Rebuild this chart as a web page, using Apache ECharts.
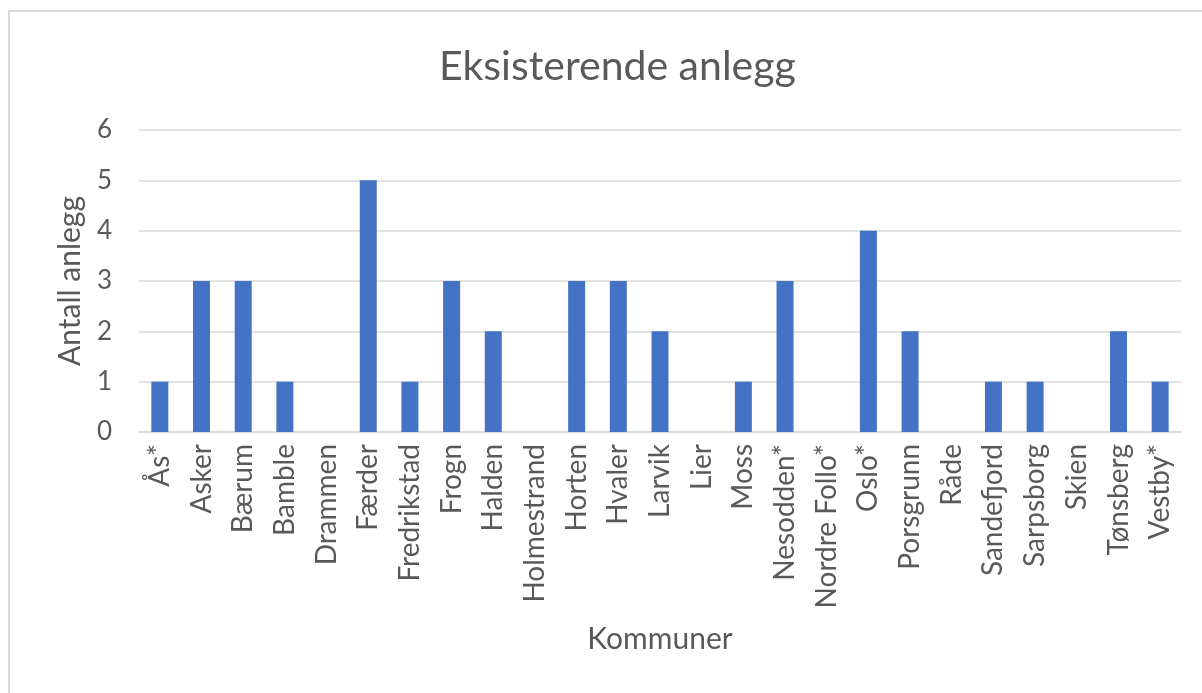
<!DOCTYPE html>
<html>
<head>
<meta charset="utf-8">
<script src="https://cdn.jsdelivr.net/npm/echarts@6/dist/echarts.min.js"></script>
<style>
  html, body { margin: 0; padding: 0; background: #fff; }
  #chart { width: 1202px; height: 693px; }
</style>
</head>
<body>
<div id="chart"></div>
<script>
// Kommuner og antall eksisterende anlegg
const kommuner = ['Ås*', 'Asker', 'Bærum', 'Bamble', 'Drammen', 'Færder', 'Fredrikstad', 'Frogn',
  'Halden', 'Holmestrand', 'Horten', 'Hvaler', 'Larvik', 'Lier', 'Moss', 'Nesodden*',
  'Nordre Follo*', 'Oslo*', 'Porsgrunn', 'Råde', 'Sandefjord', 'Sarpsborg', 'Skien', 'Tønsberg', 'Vestby*'];
const antallAnlegg = [1, 3, 3, 1, 0, 5, 1, 3, 2, 0, 3, 3, 2, 0, 1, 3, 0, 4, 2, 0, 1, 1, 0, 2, 1];
const yMin = 0, yMax = 6, yStep = 1;

const font = 'Lato, "Open Sans", sans-serif';
const textColor = '#595959';

const chart = echarts.init(document.getElementById('chart'));
chart.setOption({
  animation: false,
  backgroundColor: '#ffffff',
  graphic: [{
    type: 'rect',
    shape: { x: 9, y: 11, width: 1400, height: 900 },
    style: { fill: 'none', stroke: '#d9d9d9', lineWidth: 2 },
    silent: true
  }],
  title: {
    text: 'Eksisterende anlegg',
    left: 434,
    top: 41,
    textStyle: { fontFamily: font, fontSize: 41, fontWeight: 'normal', color: textColor }
  },
  grid: { left: 139, right: 21, top: 130, bottom: 261, containLabel: false },
  xAxis: {
    type: 'category',
    data: kommuner,
    name: 'Kommuner',
    nameLocation: 'middle',
    nameGap: 192,
    nameTextStyle: { fontFamily: font, fontSize: 30, color: textColor },
    axisLine: { show: true, lineStyle: { color: '#d9d9d9', width: 1.5 } },
    axisTick: { show: false },
    axisLabel: {
      interval: 0,
      rotate: 90,
      margin: 12,
      fontFamily: font,
      fontSize: 28,
      color: textColor
    }
  },
  yAxis: {
    type: 'value',
    min: yMin,
    max: yMax,
    interval: yStep,
    name: 'Antall anlegg',
    nameLocation: 'middle',
    nameGap: 54,
    nameTextStyle: { fontFamily: font, fontSize: 30, color: textColor },
    axisLine: { show: false },
    axisTick: { show: false },
    axisLabel: { margin: 27, fontFamily: font, fontSize: 26, color: textColor },
    splitLine: { lineStyle: { color: '#d9d9d9', width: 1.5 } }
  },
  series: [{
    type: 'bar',
    data: antallAnlegg,
    barWidth: 17,
    itemStyle: { color: '#4472c4' }
  }]
});
</script>
</body>
</html>
